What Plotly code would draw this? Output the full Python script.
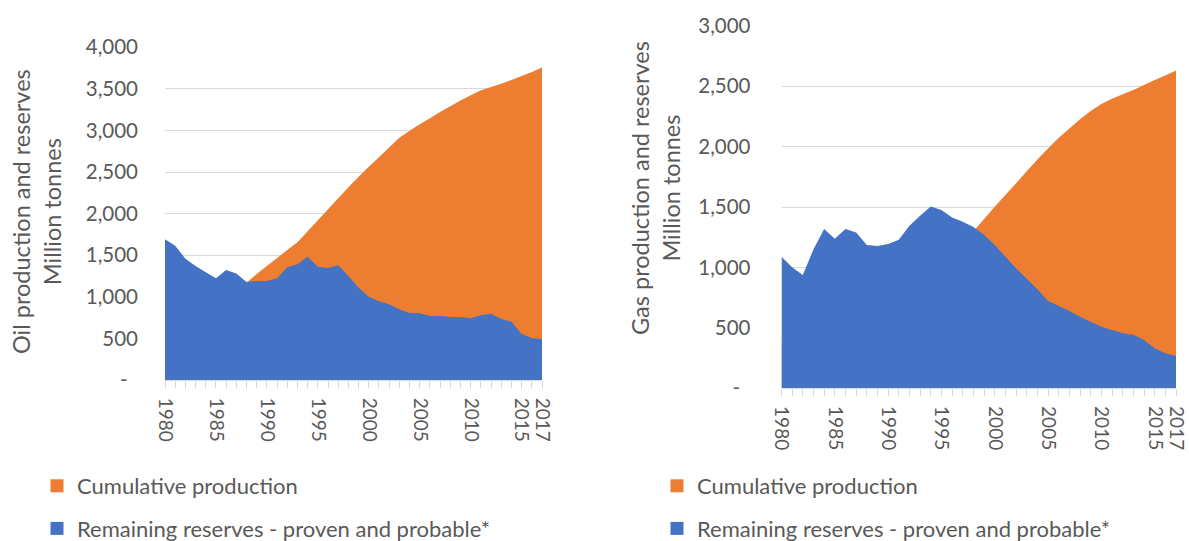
import plotly.graph_objects as go

YEARS = list(range(1980, 2018))
LABEL_YEARS = [1980, 1985, 1990, 1995, 2000, 2005, 2010, 2015, 2017]

# oil, million tonnes
OIL_CUMULATIVE = [265, 355, 450, 555, 665, 790, 915, 1045, 1170, 1275,
                  1371, 1467, 1563, 1655, 1788, 1920, 2052, 2184, 2317, 2445,
                  2565, 2677, 2794, 2914, 2998, 3074, 3146, 3222, 3291, 3359,
                  3423, 3483, 3523, 3563, 3607, 3655, 3703, 3756]
OIL_RESERVES = [1691, 1615, 1459, 1371, 1295, 1222, 1323, 1279, 1178, 1190,
                1190, 1222, 1355, 1391, 1483, 1363, 1347, 1379, 1250, 1110,
                1002, 946, 910, 850, 806, 802, 770, 770, 758, 758,
                742, 778, 798, 733, 701, 553, 505, 489]

# gas, million tonnes (oil equivalent)
GAS_CUMULATIVE = [375, 410, 445, 482, 520, 560, 600, 642, 683, 722,
                  763, 808, 855, 912, 975, 1042, 1120, 1205, 1300, 1400,
                  1503, 1599, 1696, 1795, 1894, 1985, 2073, 2150, 2225, 2294,
                  2352, 2396, 2432, 2468, 2509, 2550, 2589, 2630]
GAS_RESERVES = [1089, 1001, 937, 1150, 1318, 1238, 1318, 1290, 1185, 1177,
                1194, 1230, 1345, 1428, 1505, 1475, 1414, 1378, 1334, 1268,
                1185, 1089, 993, 907, 819, 722, 681, 640, 593, 551,
                510, 482, 455, 444, 400, 331, 289, 267]

OIL_TICKS = [0, 500, 1000, 1500, 2000, 2500, 3000, 3500, 4000]
OIL_TICKTEXT = ["-\u00a0\u00a0", "500", "1,000", "1,500", "2,000", "2,500", "3,000", "3,500", "4,000"]
GAS_TICKS = [0, 500, 1000, 1500, 2000, 2500, 3000]
GAS_TICKTEXT = ["-\u00a0\u00a0", "500", "1,000", "1,500", "2,000", "2,500", "3,000"]

ORANGE = "#ED7D31"
BLUE = "#4472C4"
GREY = "#595959"
GRID = "#D9D9D9"
FONT = "Lato, Carlito, sans-serif"
W, H = 1189, 541

fig = go.Figure()

for xa, ya, cum, res, lg in [("x", "y", OIL_CUMULATIVE, OIL_RESERVES, "legend"),
                             ("x2", "y2", GAS_CUMULATIVE, GAS_RESERVES, "legend2")]:
    fig.add_trace(go.Scatter(x=YEARS, y=cum, xaxis=xa, yaxis=ya, mode="none",
                             fill="tozeroy", fillcolor=ORANGE, showlegend=False,
                             hovertemplate="%{x}: %{y:,.0f}<extra>Cumulative production</extra>"))
    fig.add_trace(go.Scatter(x=YEARS, y=res, xaxis=xa, yaxis=ya, mode="none",
                             fill="tozeroy", fillcolor=BLUE, showlegend=False,
                             hovertemplate="%{x}: %{y:,.0f}<extra>Remaining reserves</extra>"))
    # legend swatches
    for name, color, grp in [("Cumulative production", ORANGE, "a"),
                             ("Remaining reserves - proven and probable*", BLUE, "b")]:
        fig.add_trace(go.Scatter(x=[None], y=[None], xaxis=xa, yaxis=ya, mode="markers",
                                 marker=dict(symbol="square", size=13, color=color),
                                 name=name, legend=lg, legendgroup=lg + grp))

tick_text = [str(y) if y in LABEL_YEARS else "" for y in YEARS]
xaxis_common = dict(
    range=[1980, 2017], tickmode="array", tickvals=YEARS, ticktext=tick_text,
    tickangle=90, ticks="outside", ticklen=7, tickcolor=GRID, showline=True,
    linecolor=GRID, linewidth=1, showgrid=False, zeroline=False,
    ticklabelstandoff=6, ticklabeloverflow="allow",
    tickfont=dict(size=19, color=GREY, family=FONT), automargin=False,
)
yaxis_common = dict(
    showgrid=True, gridcolor=GRID, gridwidth=1, zeroline=False, showline=False,
    tickfont=dict(size=20.5, color=GREY, family=FONT), ticks="", automargin=False,
)

legend_common = dict(xanchor="left", yanchor="top", y=1 - 465 / H,
                     font=dict(size=22, color=GREY, family=FONT), tracegroupgap=11,
                     bgcolor="rgba(0,0,0,0)", traceorder="grouped")

fig.update_layout(
    width=W, height=H,
    margin=dict(l=0, r=0, t=0, b=0, autoexpand=False),
    plot_bgcolor="white", paper_bgcolor="white",
    font=dict(family=FONT, color=GREY),
    xaxis=dict(domain=[165 / W, 542 / W], anchor="y", **xaxis_common),
    yaxis=dict(domain=[(H - 380) / H, (H - 47.3) / H], anchor="x", range=[0, 4000],
               tickvals=OIL_TICKS, ticktext=OIL_TICKTEXT, ticklabelstandoff=26, **yaxis_common),
    xaxis2=dict(domain=[781.5 / W, 1176 / W], anchor="y2", **xaxis_common),
    yaxis2=dict(domain=[(H - 388.3) / H, (H - 25.7) / H], anchor="x2", range=[0, 3000],
                tickvals=GAS_TICKS, ticktext=GAS_TICKTEXT, ticklabelstandoff=30, **yaxis_common),
    legend=dict(x=37 / W, **legend_common),
    legend2=dict(x=657 / W, **legend_common),
    annotations=[
        dict(text="Oil production and reserves<br>Million tonnes", x=36 / W, y=1 - 212 / H,
             xref="paper", yref="paper", textangle=-90, showarrow=False,
             xanchor="center", yanchor="middle", font=dict(size=23.5, color=GREY, family=FONT)),
        dict(text="Gas production and reserves<br>Million tonnes", x=656 / W, y=1 - 188 / H,
             xref="paper", yref="paper", textangle=-90, showarrow=False,
             xanchor="center", yanchor="middle", font=dict(size=23.5, color=GREY, family=FONT)),
    ],
    showlegend=True,
)

fig.write_html("out.html", config={"displayModeBar": False},
               post_script="document.body.style.margin='0';")
